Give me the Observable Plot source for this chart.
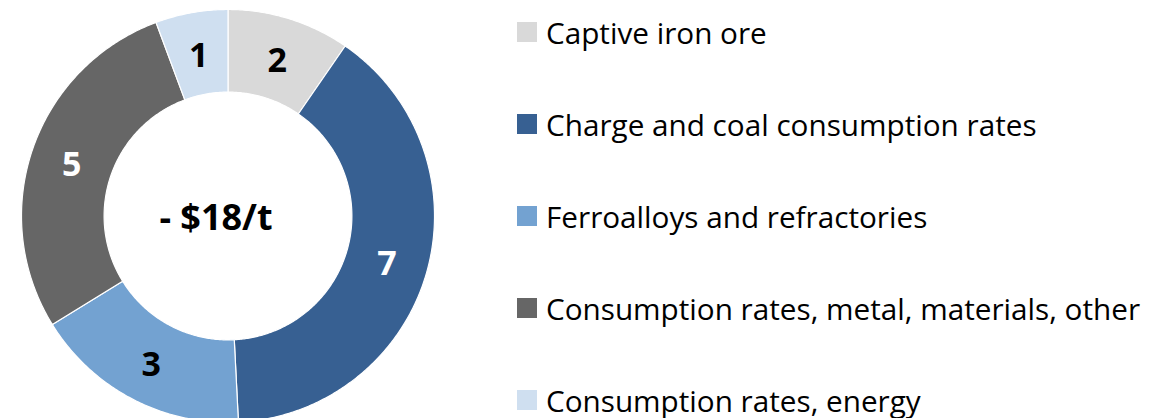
<!DOCTYPE html>
<html>
<head>
<meta charset="utf-8">
<script src="https://cdn.jsdelivr.net/npm/d3@7"></script>
<script src="https://cdn.jsdelivr.net/npm/@observablehq/plot@0.6"></script>
<style>
  html, body { margin: 0; padding: 0; background: #fff; overflow: hidden; }
  #wrap { position: relative; width: 1167px; height: 418px; font-family: "Open Sans", sans-serif; }
  #chart { position: absolute; left: 0; top: 0; }
  #legend { position: absolute; left: 517px; top: 0; }
  .row { position: absolute; left: 0; height: 40px; display: flex; align-items: center; white-space: nowrap; color: #000; }
  .sw { width: 20px; height: 20px; margin-right: 9px; flex: none; }
</style>
</head>
<body>
<div id="wrap"><div id="chart"></div><div id="legend"></div></div>
<script>
const categories = [
  "Captive iron ore",
  "Charge and coal consumption rates",
  "Ferroalloys and refractories",
  "Consumption rates, metal, materials, other",
  "Consumption rates, energy"
];
const values = [1.73, 7.13, 3.06, 5.07, 1.02];
const valueLabels = ["2", "7", "3", "5", "1"];
const colors = ["#d9d9d9", "#376092", "#73a2d1", "#666666", "#cfdff0"];
const labelColors = ["#000000", "#ffffff", "#000000", "#ffffff", "#000000"];
const centerLabel = "- $18/t";

const W = 470, H = 418;
const cx = 227.5, cy = 215.5, R = 206.5; // pixel geometry
const inner = 0.6;

const arcs = d3.pie().sort(null).value(d => d)(values);
const polys = [];
arcs.forEach((a, i) => {
  const n = Math.max(8, Math.ceil((a.endAngle - a.startAngle) / 0.01));
  for (let k = 0; k <= n; k++) {
    const t = a.startAngle + (a.endAngle - a.startAngle) * k / n;
    polys.push({cat: categories[i], x: Math.sin(t), y: Math.cos(t)});
  }
  for (let k = n; k >= 0; k--) {
    const t = a.startAngle + (a.endAngle - a.startAngle) * k / n;
    polys.push({cat: categories[i], x: inner * Math.sin(t), y: inner * Math.cos(t)});
  }
});
const lr = (1 + inner) / 2;
const labelData = arcs.map((a, i) => {
  const m = (a.startAngle + a.endAngle) / 2;
  return {label: valueLabels[i], color: labelColors[i], x: lr * Math.sin(m), y: lr * Math.cos(m)};
});

const plot = Plot.plot({
  width: W, height: H,
  margin: 0,
  x: {domain: [-cx / R, (W - cx) / R], axis: null},
  y: {domain: [-(H - cy) / R, cy / R], axis: null},
  color: {domain: categories, range: colors},
  style: {fontFamily: "'Open Sans', sans-serif", background: "transparent"},
  marks: [
    Plot.line(polys, {x: "x", y: "y", z: "cat", fill: "cat", stroke: "white", strokeWidth: 1.2, curve: "linear-closed"}),
    Plot.text(labelData.filter(d => d.color === "#000000"), {x: "x", y: "y", text: "label", fill: "#000", fontSize: 34, fontWeight: "bold", dy: 3}),
    Plot.text(labelData.filter(d => d.color === "#ffffff"), {x: "x", y: "y", text: "label", fill: "#fff", fontSize: 34, fontWeight: "bold", dy: 3}),
    Plot.text([centerLabel], {x: 0, y: 0, text: d => d, fill: "#000", fontSize: 36, fontWeight: "bold", dx: -12, dy: 2})
  ]
});
document.getElementById("chart").appendChild(plot);

// legend
const ctx = document.createElement("canvas").getContext("2d");
ctx.font = "100px 'Open Sans'";
const targetW = 594;
const fs = 100 * targetW / ctx.measureText(categories[3]).width;
const legend = document.getElementById("legend");
const rowCenters = categories.map((c, i) => 32 + 92 * i);
categories.forEach((c, i) => {
  const row = document.createElement("div");
  row.className = "row";
  row.style.top = (rowCenters[i] - 20) + "px";
  row.style.fontSize = fs.toFixed(2) + "px";
  const sw = document.createElement("div");
  sw.className = "sw";
  sw.style.background = plot.scale("color").apply(c);
  const tx = document.createElement("span");
  tx.textContent = c;
  row.appendChild(sw); row.appendChild(tx);
  legend.appendChild(row);
});
</script>
</body>
</html>
